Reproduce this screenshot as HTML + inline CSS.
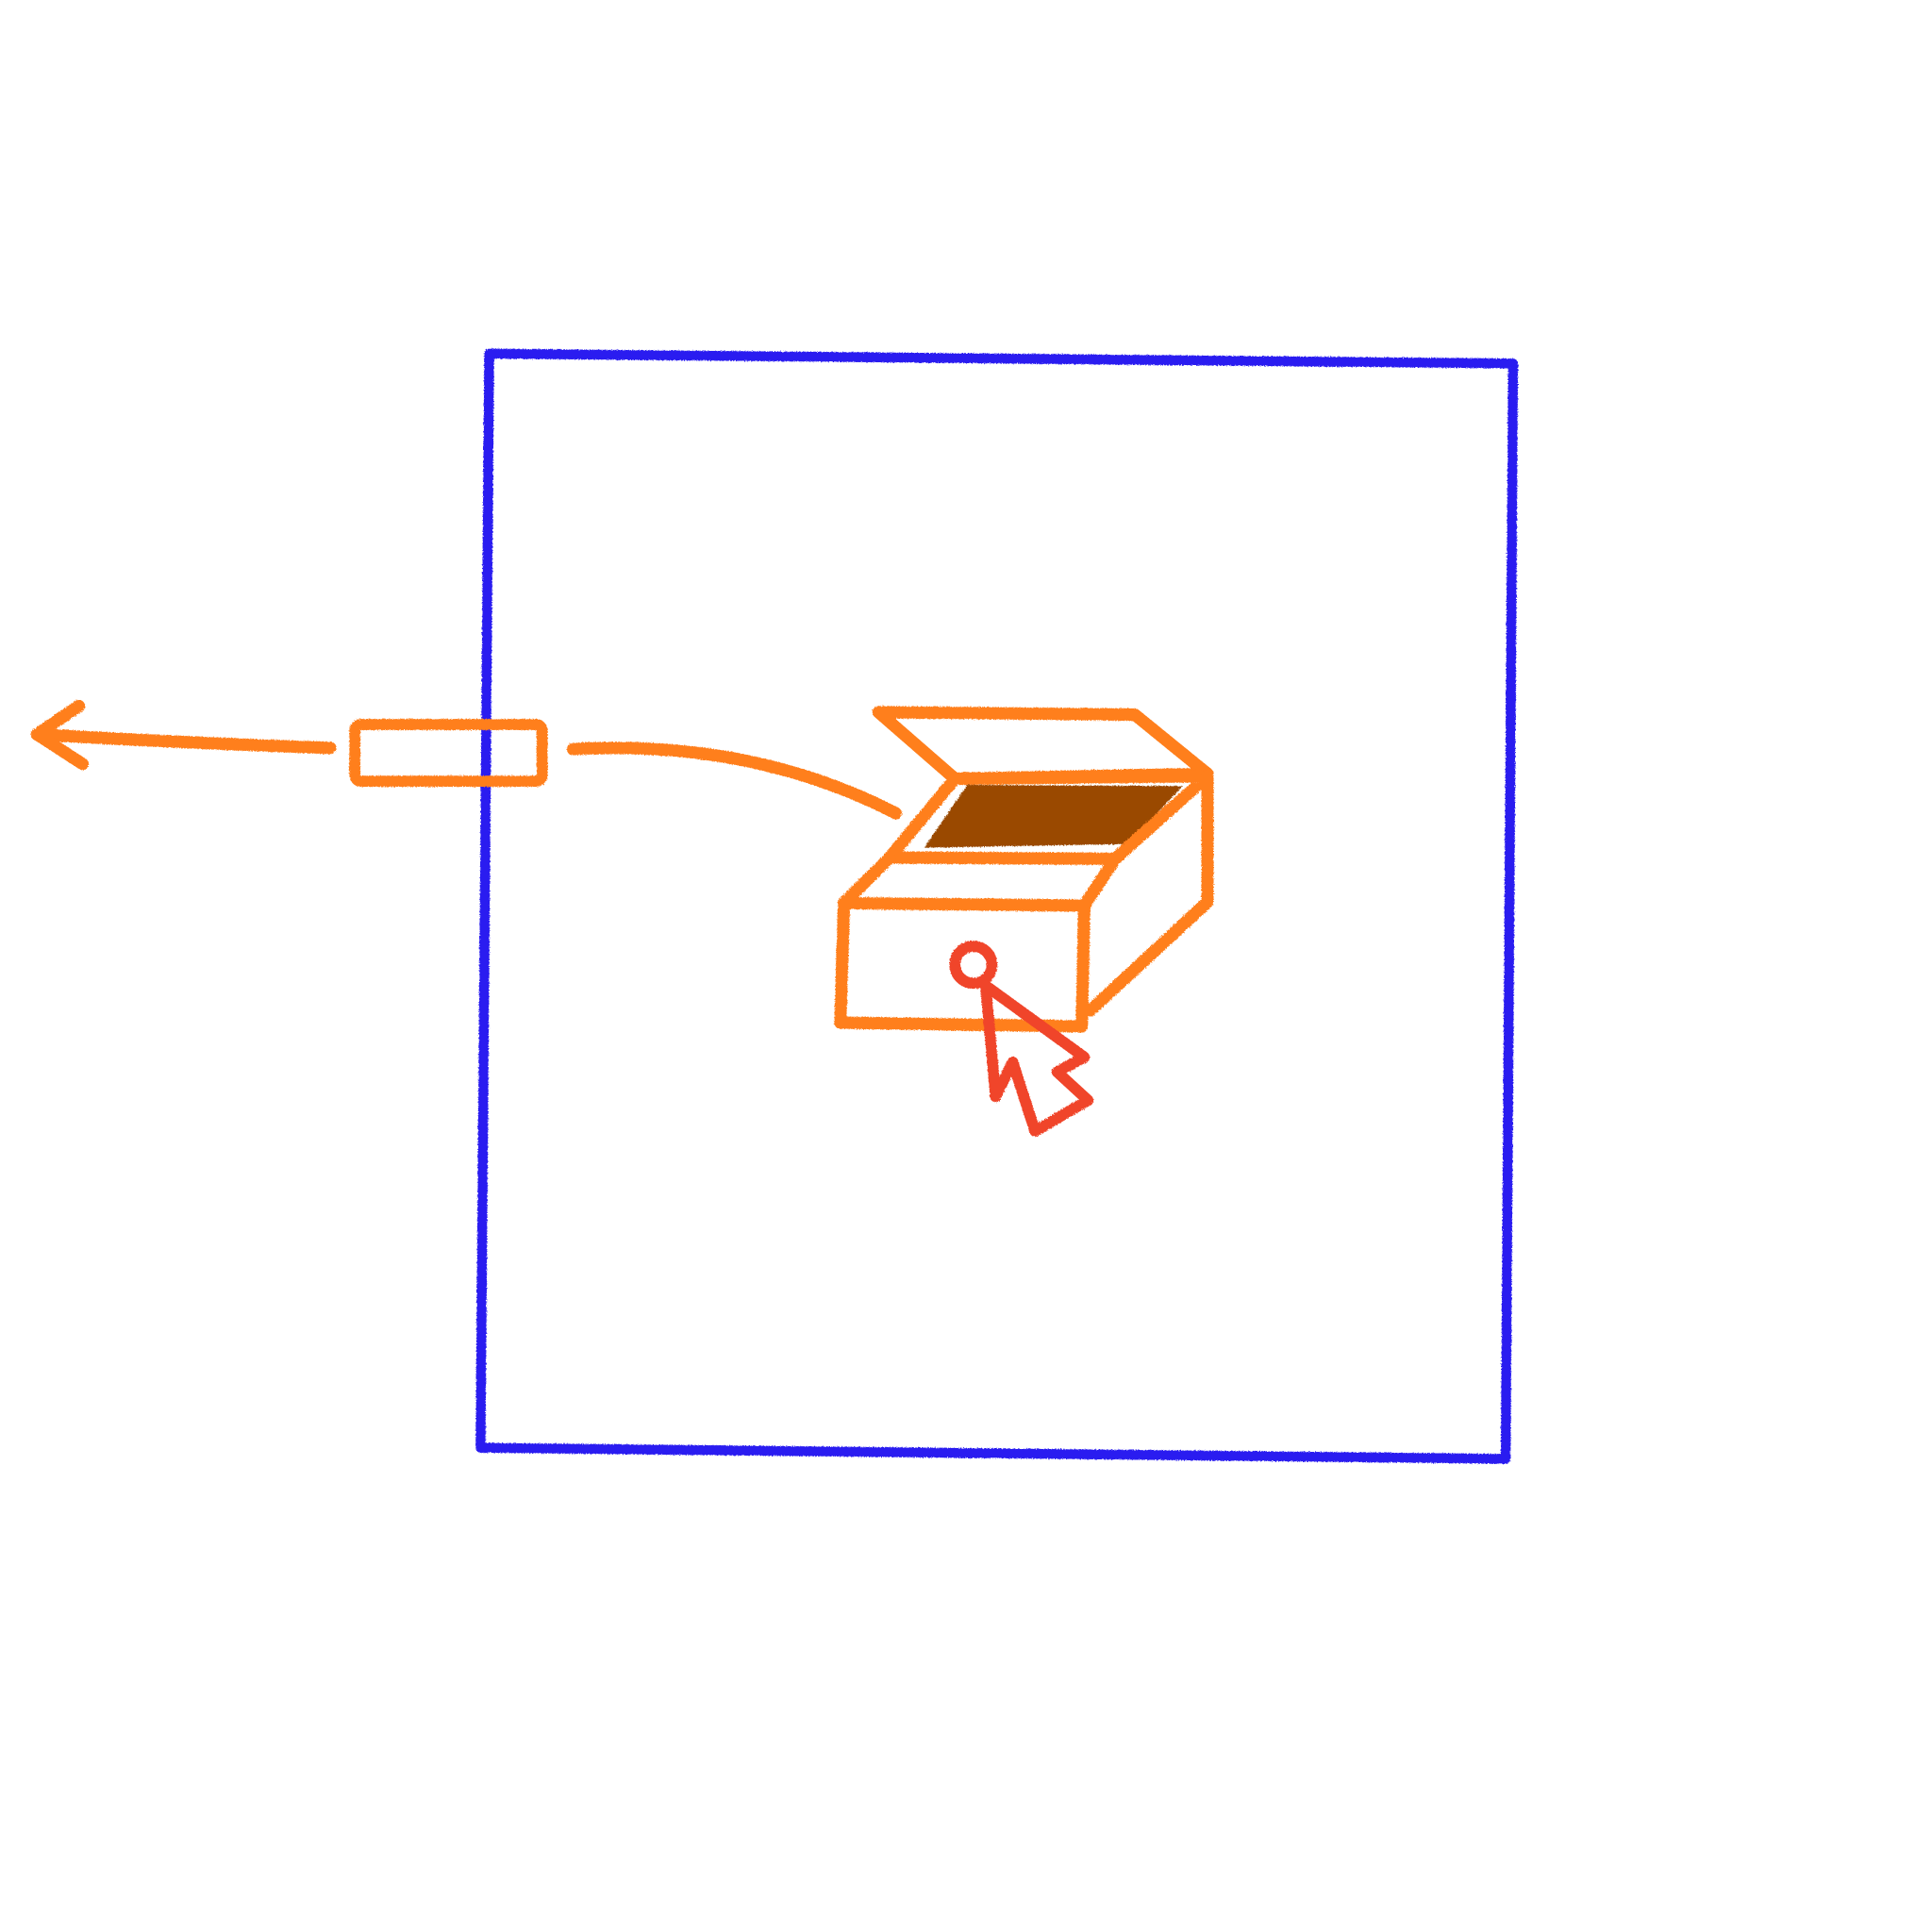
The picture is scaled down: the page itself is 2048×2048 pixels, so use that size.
<!DOCTYPE html>
<html>
<head>
<meta charset="utf-8">
<style>
  html,body{margin:0;padding:0;background:#fff;}
  svg{display:block;}
</style>
</head>
<body>
<svg width="2048" height="2048" viewBox="0 0 1568 1568" xmlns="http://www.w3.org/2000/svg">
  <defs>
    <filter id="rough" x="-5%" y="-5%" width="110%" height="110%">
      <feTurbulence type="fractalNoise" baseFrequency="0.9" numOctaves="2" result="n"/>
      <feDisplacementMap in="SourceGraphic" in2="n" scale="2.5"/>
    </filter>
  </defs>
  <rect width="1568" height="1568" fill="#fff"/>
  <g filter="url(#rough)" stroke-linecap="round" stroke-linejoin="round" fill="none">
    <polygon points="397,287 1228,295 1222,1184 390,1175" stroke="#2a1ff0" stroke-width="8"/>
    <g stroke="#ff7f1e" stroke-width="10">
      <path d="M30,596 Q150,603 268,607"/>
      <path d="M64,573 L30,596 L67,620"/>
    </g>
    <rect x="288" y="588" width="152" height="46" rx="5" stroke="#ff7f1e" stroke-width="9"/>
    <path d="M465,608 Q610,600 727,660" stroke="#ff7f1e" stroke-width="10"/>
    <g stroke="#ff7f1e" stroke-width="10">
      <polygon points="750,688 785,637 960,638 915,685" fill="#9a4a00" stroke="none"/>
      <polygon points="713,578 921,580 980,628 775,632"/>
      <polygon points="775,632 980,630 905,697 722,696"/>
      <polyline points="722,696 685,733"/>
      <polyline points="905,697 880,735"/>
      <polygon points="685,733 880,735 878,833 682,830"/>
      <polyline points="980,630 980,732 885,820"/>
    </g>
    <g stroke="#f0442a" stroke-width="9">
      <circle cx="790" cy="783" r="15"/>
      <polygon points="800,800 808,890 822,862 840,918 883,893 858,870 880,858"/>
    </g>
  </g>
</svg>
</body>
</html>
